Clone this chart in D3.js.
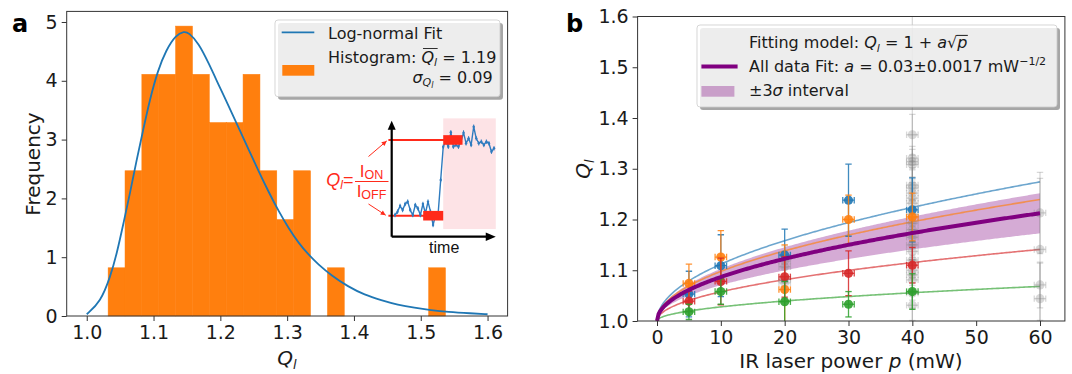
<!DOCTYPE html>
<html><head><meta charset="utf-8">
<script src="https://cdn.jsdelivr.net/npm/d3@7"></script>
<style>
body{margin:0;background:#fff;}
svg{display:block;font-family:"DejaVu Sans",sans-serif;}
</style></head><body>
<svg id="c" width="1072" height="374"></svg>
<script>
// ---------------- DATA ----------------
// Panel a: histogram of Q_l (frequency density) and log-normal fit
const histBinEdges = [1.032,1.0573,1.0825,1.1078,1.133,1.1583,1.1835,1.2088,1.234,1.2593,1.2845,1.3098,1.335,1.3603,1.3855,1.4108,1.436,1.4613,1.4865,1.5118,1.537];
const histFreq = [0.82,2.47,4.11,4.11,4.93,4.11,3.29,3.29,4.11,2.47,1.64,2.47,0,0.82,0,0,0,0,0,0.82];
const lognormQ = [1.0,1.0207,1.0354,1.0452,1.055,1.0648,1.0746,1.0844,1.0942,1.1065,1.1187,1.1334,1.1457,1.1526,1.1675,1.1825,1.1975,1.2124,1.2274,1.2424,1.2573,1.2723,1.2873,1.3023,1.3172,1.3322,1.3464,1.3663,1.3911,1.416,1.4408,1.4657,1.4905,1.5154,1.5402,1.575,1.6];
const lognormF = [0.03,0.24,0.67,1.07,1.58,2.09,2.65,3.16,3.67,4.18,4.52,4.78,4.84,4.82,4.64,4.30,3.93,3.57,3.20,2.83,2.46,2.11,1.78,1.49,1.24,1.04,0.88,0.69,0.50,0.36,0.27,0.19,0.14,0.10,0.07,0.045,0.03];
const leftXTicks = [1.0,1.1,1.2,1.3,1.4,1.5,1.6];
const leftYTicks = [0,1,2,3,4,5];
// inset: photocurrent trace (arbitrary units)
const insetSignal = [1.87,2.16,2.65,2.30,2.82,3.02,2.30,1.87,2.73,2.45,1.87,2.82,2.02,3.02,2.16,1.01,1.87,2.02,4.89,7.76,8.19,7.76,9.0,7.76,7.91,7.76,8.19,8.97,8.05,8.48,7.91,9.48,8.48,8.05,8.19,7.91,8.19,8.05,7.33,7.62];
const insetOn = 8.34, insetOff = 1.81;

// Panel b: Q_l vs IR power
const powerLevels = [5,10,20,30,40];
const powerErr = [0.9,0.9,0.9,0.9,0.9];
const blueQ = [1.053,1.109,1.130,1.238,1.219];
const blueErr = [0.045,0.061,0.051,0.071,0.063];
const orangeQ = [1.074,1.126,1.062,1.200,1.205];
const orangeErr = [0.038,0.052,0.088,0.048,0.047];
const redQ = [1.039,1.078,1.087,1.094,1.110];
const redErr = [0.02,0.046,0.04,0.044,0.035];
const greenQ = [1.018,1.058,1.038,1.033,1.058];
const greenErr = [0.015,0.025,0.04,0.025,0.035];
const grayP = [20,20,20,20,40,40,40,40,40,40,40,40,40,40,40,40,40,40,40,40,40,40,40,40,40,60,60,60,60];
const grayQ = [1.118,1.107,1.082,1.075,1.367,1.321,1.314,1.308,1.268,1.262,1.252,1.242,1.232,1.21,1.193,1.18,1.165,1.15,1.137,1.12,1.10,1.091,1.081,1.055,1.031,1.213,1.141,1.071,1.044];
const grayErr = [0.03,0.03,0.04,0.03,0.04,0.35,0.03,0.03,0.03,0.04,0.03,0.03,0.04,0.03,0.03,0.03,0.04,0.03,0.03,0.03,0.03,0.03,0.04,0.03,0.03,0.08,0.14,0.045,0.07];
const fitA = {blue:0.0354, orange:0.0309, red:0.0182, green:0.0088};
const allFitA = 0.0274, allFitSigma = 0.0017;
const rightXTicks = [0,10,20,30,40,50,60];
const rightYTicks = [1.0,1.1,1.2,1.3,1.4,1.5,1.6];

// ---------------- DRAW ----------------
const svg = d3.select("#c");
const C = {blue:"#1f77b4", orange:"#ff7f0e", green:"#2ca02c", red:"#d62728", gray:"#7f7f7f", purple:"#800080"};
const TXT = "#1a1a1a";

function rich(g, x, y, parts, size, anchor, fam){
  const t = g.append("text").attr("x",x).attr("y",y).attr("font-size",size)
    .attr("text-anchor",anchor||"start").attr("fill",TXT);
  if(fam) t.attr("font-family",fam);
  let cur = 0;
  parts.forEach(p=>{
    const s = t.append("tspan").text(p.t);
    const sh = p.shift||0;
    if(sh-cur!==0) s.attr("dy", sh-cur);
    cur = sh;
    if(p.it) s.attr("font-style","italic");
    if(p.size) s.attr("font-size",p.size);
  });
  return t;
}
function styleAxis(g, size){
  g.select(".domain").remove();
  g.selectAll(".tick line").attr("stroke","#333").attr("stroke-width",1);
  g.selectAll(".tick text").attr("font-size",size).attr("fill",TXT).attr("font-family","DejaVu Sans");
}
function legendBox(g,x,y,w,h){
  g.append("rect").attr("x",x+3).attr("y",y+3).attr("width",w).attr("height",h).attr("rx",3)
    .attr("fill","#4d4d4d").attr("fill-opacity",0.5);
  g.append("rect").attr("x",x).attr("y",y).attr("width",w).attr("height",h).attr("rx",3)
    .attr("fill","#fff").attr("fill-opacity",0.8).attr("stroke","#cccccc").attr("stroke-opacity",0.8);
}

// ===== Panel a =====
const xL = d3.scaleLinear().domain([0.97,1.63]).range([66.7,507.6]);
const yL = d3.scaleLinear().domain([0,5.18]).range([316,11.4]);
const gA = svg.append("g");

gA.append("g").selectAll("rect").data(histFreq).join("rect")
  .attr("x",(d,i)=>xL(histBinEdges[i]))
  .attr("width",(d,i)=>xL(histBinEdges[i+1])-xL(histBinEdges[i]))
  .attr("y",d=>yL(d)).attr("height",d=>yL(0)-yL(d))
  .attr("fill",C.orange).attr("stroke",C.orange).attr("stroke-width",0.5);

const lnPts = lognormQ.map((q,i)=>[q,lognormF[i]]);
gA.append("path").datum(lnPts)
  .attr("d", d3.line().x(d=>xL(d[0])).y(d=>yL(d[1])).curve(d3.curveBasis))
  .attr("fill","none").attr("stroke",C.blue).attr("stroke-width",1.8);

// inset
const insetX = d3.scaleLinear().domain([0,39]).range([395,494]);
const insetY = d3.scaleLinear().domain([0,10]).range([236.7,120.7]);
const gI = gA.append("g");
const RED = "#ff2a1a";
gI.append("rect").attr("x",insetX(19)).attr("width",insetX(39.7)-insetX(19))
  .attr("y",insetY(10.2)).attr("height",insetY(0.66)-insetY(10.2)).attr("fill","#fde3e6");
gI.append("line").attr("x1",insetX(-2.6)).attr("x2",insetX(20)).attr("y1",insetY(insetOn)).attr("y2",insetY(insetOn)).attr("stroke",RED).attr("stroke-width",2);
gI.append("line").attr("x1",insetX(-2.6)).attr("x2",insetX(11.5)).attr("y1",insetY(insetOff)).attr("y2",insetY(insetOff)).attr("stroke",RED).attr("stroke-width",2);
const tr = insetSignal.map((v,i)=>[i,v]);
gI.append("path").datum(tr).attr("d",d3.line().x(d=>insetX(d[0])).y(d=>insetY(d[1])))
  .attr("fill","none").attr("stroke","#2f7bbf").attr("stroke-width",1.4);
gI.append("g").selectAll("line").data(tr).join("line")
  .attr("x1",d=>insetX(d[0])).attr("x2",d=>insetX(d[0]))
  .attr("y1",d=>insetY(d[1])-2.2).attr("y2",d=>insetY(d[1])+2.2)
  .attr("stroke","#2f7bbf").attr("stroke-width",1);
gI.append("g").selectAll("circle").data(tr).join("circle")
  .attr("cx",d=>insetX(d[0])).attr("cy",d=>insetY(d[1])).attr("r",1.2).attr("fill","#2f7bbf");
gI.append("rect").attr("x",insetX(19)).attr("width",insetX(26.6)-insetX(19))
  .attr("y",insetY(insetOn)-4.8).attr("height",9.6).attr("fill",RED);
gI.append("rect").attr("x",insetX(11.1)).attr("width",insetX(19)-insetX(11.1))
  .attr("y",insetY(insetOff)-4.8).attr("height",9.6).attr("fill",RED);
const ox = insetX(-1.3), oy = insetY(0), tipX = insetX(39.7), tipY = insetY(10);
gI.append("path").attr("d",`M${ox},${oy}V${tipY+8}M${ox},${oy}H${tipX-9}`).attr("stroke","#000").attr("stroke-width",2.2).attr("fill","none");
gI.append("path").attr("d",`M${ox},${tipY}L${ox-4},${tipY+9}L${ox+4},${tipY+9}Z`).attr("fill","#000");
gI.append("path").attr("d",`M${tipX},${oy}L${tipX-10},${oy-4.2}L${tipX-10},${oy+4.2}Z`).attr("fill","#000");
gI.append("text").attr("x",(ox+tipX)/2+0.5).attr("y",oy+16.5).attr("text-anchor","middle")
  .attr("font-family","Liberation Sans").attr("font-size",16).attr("fill","#111").text("time");
function redArrow(x1,y1,x2,y2){
  gI.append("line").attr("x1",x1).attr("y1",y1).attr("x2",x2).attr("y2",y2).attr("stroke",RED).attr("stroke-width",1);
  const a = Math.atan2(y2-y1,x2-x1), L=5, w=2.5;
  const bx = x2-L*Math.cos(a), by = y2-L*Math.sin(a);
  gI.append("path").attr("d",`M${x2},${y2}L${bx-w*Math.sin(a)},${by+w*Math.cos(a)}L${bx+w*Math.sin(a)},${by-w*Math.cos(a)}Z`).attr("fill",RED);
}
redArrow(368.5,156.5,ox-5,insetY(insetOn)+1);
redArrow(368.5,204,ox-6,insetY(insetOff)-0.5);
const fx = 371.5;
const tOn = gI.append("text").attr("x",fx).attr("y",177).attr("text-anchor","middle").attr("font-family","Liberation Sans").attr("font-size",17).attr("fill",RED);
tOn.append("tspan").text("I"); tOn.append("tspan").attr("font-size",12.5).attr("dy",1.5).text("ON");
const tOff = gI.append("text").attr("x",fx).attr("y",197).attr("text-anchor","middle").attr("font-family","Liberation Sans").attr("font-size",17).attr("fill",RED);
tOff.append("tspan").text("I"); tOff.append("tspan").attr("font-size",12.5).attr("dy",1.5).text("OFF");
gI.append("line").attr("x1",355).attr("x2",388.5).attr("y1",181.5).attr("y2",181.5).attr("stroke",RED).attr("stroke-width",1);
const tQ = gI.append("text").attr("x",353.5).attr("y",186).attr("text-anchor","end").attr("font-family","Liberation Sans").attr("font-size",18).attr("fill",RED);
tQ.append("tspan").attr("font-style","italic").text("Q");
tQ.append("tspan").attr("font-style","italic").attr("font-size",12).attr("dy",3).text("l");
tQ.append("tspan").attr("dy",-3).text("=");

// axes a
const axLX = gA.append("g").attr("transform","translate(0,316)")
  .call(d3.axisBottom(xL).tickValues(leftXTicks).tickFormat(d3.format(".1f")).tickSize(5).tickPadding(5));
styleAxis(axLX,19);
const axLY = gA.append("g").attr("transform","translate(66.7,0)")
  .call(d3.axisLeft(yL).tickValues(leftYTicks).tickFormat(d3.format("d")).tickSize(5).tickPadding(4));
styleAxis(axLY,19);
gA.append("rect").attr("x",66.7).attr("y",11.4).attr("width",507.6-66.7).attr("height",316-11.4)
  .attr("fill","none").attr("stroke","#333").attr("stroke-width",1);

gA.append("text").attr("transform","translate(40,164) rotate(-90)").attr("text-anchor","middle")
  .attr("font-size",20).attr("fill",TXT).text("Frequency");
rich(gA,287,365,[{t:"Q",it:true},{t:"l",it:true,size:13,shift:4}],20,"middle");
gA.append("text").attr("x",12).attr("y",32).attr("font-size",24).attr("font-weight","bold").attr("fill","#000").text("a");

// legend a
const lgA = gA.append("g");
legendBox(lgA,275,20,225,76.7);
lgA.append("line").attr("x1",281.7).attr("x2",314.3).attr("y1",32.3).attr("y2",32.3).attr("stroke",C.blue).attr("stroke-width",1.8);
lgA.append("rect").attr("x",282.3).attr("y",65).attr("width",32).attr("height",10.7).attr("fill",C.orange);
rich(lgA,328,38.5,[{t:"Log-normal Fit"}],16);
const hT = rich(lgA,328,63,[{t:"Histogram: "},{t:"Q",it:true},{t:"l",it:true,size:11,shift:3}],16);
hT.append("tspan").attr("dy",-3).text(" = 1.19");
rich(lgA,492.7,82.5,[{t:"σ",it:true},{t:"Q",it:true,size:11,shift:3.5},{t:"l",it:true,size:8,shift:5.5},{t:" = 0.09",shift:0}],16,"end");
{
  const n = hT.node();
  const e1 = n.getExtentOfChar(11), e2 = n.getExtentOfChar(12);
  lgA.append("line").attr("x1",e1.x+1.5).attr("x2",e2.x+e2.width+0.5).attr("y1",63-14.5).attr("y2",63-14.5)
    .attr("stroke",TXT).attr("stroke-width",0.9);
}

// ===== Panel b =====
const xR = d3.scaleLinear().domain([-3.04,63.9]).range([637.6,1064.9]);
const yR = d3.scaleLinear().domain([1.0,1.6]).range([321,16.5]);
const gB = svg.append("g");
svg.append("defs").append("clipPath").attr("id","clipB").append("rect")
  .attr("x",637.6).attr("y",16.5).attr("width",1064.9-637.6).attr("height",321-16.5);
const plotB = gB.append("g").attr("clip-path","url(#clipB)");

const pGrid = d3.range(0,60.001,0.25);
plotB.append("path").datum(pGrid)
  .attr("d", d3.area().x(p=>xR(p)).y0(p=>yR(1+(allFitA-3*allFitSigma)*Math.sqrt(p))).y1(p=>yR(1+(allFitA+3*allFitSigma)*Math.sqrt(p))))
  .attr("fill",C.purple).attr("fill-opacity",0.33);
[["blue",C.blue],["orange",C.orange],["red",C.red],["green",C.green]].forEach(([k,col])=>{
  plotB.append("path").datum(pGrid)
    .attr("d", d3.line().x(p=>xR(p)).y(p=>yR(1+fitA[k]*Math.sqrt(p))))
    .attr("fill","none").attr("stroke",col).attr("stroke-width",1.6).attr("stroke-opacity",0.65);
});
function errPoint(g,p,q,dq,dp,col,op,mop){
  const cap=3.2;
  const e = g.append("g").attr("stroke",col).attr("stroke-opacity",op).attr("stroke-width",1.3);
  e.append("line").attr("x1",xR(p)).attr("x2",xR(p)).attr("y1",yR(q-dq)).attr("y2",yR(q+dq));
  e.append("line").attr("x1",xR(p)-cap).attr("x2",xR(p)+cap).attr("y1",yR(q-dq)).attr("y2",yR(q-dq));
  e.append("line").attr("x1",xR(p)-cap).attr("x2",xR(p)+cap).attr("y1",yR(q+dq)).attr("y2",yR(q+dq));
  e.append("line").attr("x1",xR(p-dp)).attr("x2",xR(p+dp)).attr("y1",yR(q)).attr("y2",yR(q));
  e.append("line").attr("x1",xR(p-dp)).attr("x2",xR(p-dp)).attr("y1",yR(q)-cap).attr("y2",yR(q)+cap);
  e.append("line").attr("x1",xR(p+dp)).attr("x2",xR(p+dp)).attr("y1",yR(q)-cap).attr("y2",yR(q)+cap);
  g.append("circle").attr("cx",xR(p)).attr("cy",yR(q)).attr("r",4.6).attr("fill",col).attr("fill-opacity",mop);
}
const gGray = plotB.append("g");
grayP.forEach((p,i)=>errPoint(gGray,p,grayQ[i],grayErr[i],0.9,C.gray,0.3,0.3));
const series = [[blueQ,blueErr,C.blue],[orangeQ,orangeErr,C.orange],[redQ,redErr,C.red],[greenQ,greenErr,C.green]];
series.forEach(([qs,es,col])=>{
  const g = plotB.append("g");
  powerLevels.forEach((p,i)=>errPoint(g,p,qs[i],es[i],powerErr[i],col,0.85,0.9));
});
plotB.append("path").datum(pGrid)
  .attr("d", d3.line().x(p=>xR(p)).y(p=>yR(1+allFitA*Math.sqrt(p))))
  .attr("fill","none").attr("stroke",C.purple).attr("stroke-width",4);

const axRX = gB.append("g").attr("transform","translate(0,321)")
  .call(d3.axisBottom(xR).tickValues(rightXTicks).tickFormat(d3.format("d")).tickSize(5).tickPadding(5));
styleAxis(axRX,19);
const axRY = gB.append("g").attr("transform","translate(637.6,0)")
  .call(d3.axisLeft(yR).tickValues(rightYTicks).tickFormat(d3.format(".1f")).tickSize(5).tickPadding(4));
styleAxis(axRY,19);
gB.append("rect").attr("x",637.6).attr("y",16.5).attr("width",1064.9-637.6).attr("height",321-16.5)
  .attr("fill","none").attr("stroke","#333").attr("stroke-width",1);
rich(gB,851,368,[{t:"IR laser power "},{t:"p",it:true},{t:" (mW)"}],20,"middle");
{
  const t = gB.append("text").attr("transform","translate(590,169) rotate(-90)").attr("text-anchor","middle").attr("font-size",20).attr("fill",TXT);
  t.append("tspan").attr("font-style","italic").text("Q");
  t.append("tspan").attr("font-style","italic").attr("font-size",13).attr("dy",4).text("l");
}
gB.append("text").attr("x",566).attr("y",32).attr("font-size",24).attr("font-weight","bold").attr("fill","#000").text("b");

// legend b
const lgB = gB.append("g");
legendBox(lgB,697,25,360,82);
lgB.append("line").attr("x1",701.4).attr("x2",737.6).attr("y1",66.5).attr("y2",66.5).attr("stroke",C.purple).attr("stroke-width",4);
lgB.append("rect").attr("x",701.4).attr("y",86).attr("width",33).attr("height",10.7).attr("fill",C.purple).attr("fill-opacity",0.33);
const fm = rich(lgB,749,48,[{t:"Fitting model: "},{t:"Q",it:true},{t:"l",it:true,size:11,shift:3.5},{t:" = 1 + ",shift:0},{t:"a",it:true},{t:"√"},{t:"p",it:true}],16);
{
  const n = fm.node();
  const es = n.getExtentOfChar(25), ep = n.getExtentOfChar(26);
  lgB.append("line").attr("x1",es.x+es.width-0.6).attr("x2",ep.x+ep.width+0.5).attr("y1",48-12.6).attr("y2",48-12.6)
    .attr("stroke",TXT).attr("stroke-width",1);
}
rich(lgB,749,72,[{t:"All data Fit: "},{t:"a",it:true},{t:" = 0.03±0.0017 mW"},{t:"−1/2",size:11,shift:-7}],16);
rich(lgB,749,96,[{t:"±3"},{t:"σ",it:true},{t:"  interval"}],16);
</script>
</body></html>
